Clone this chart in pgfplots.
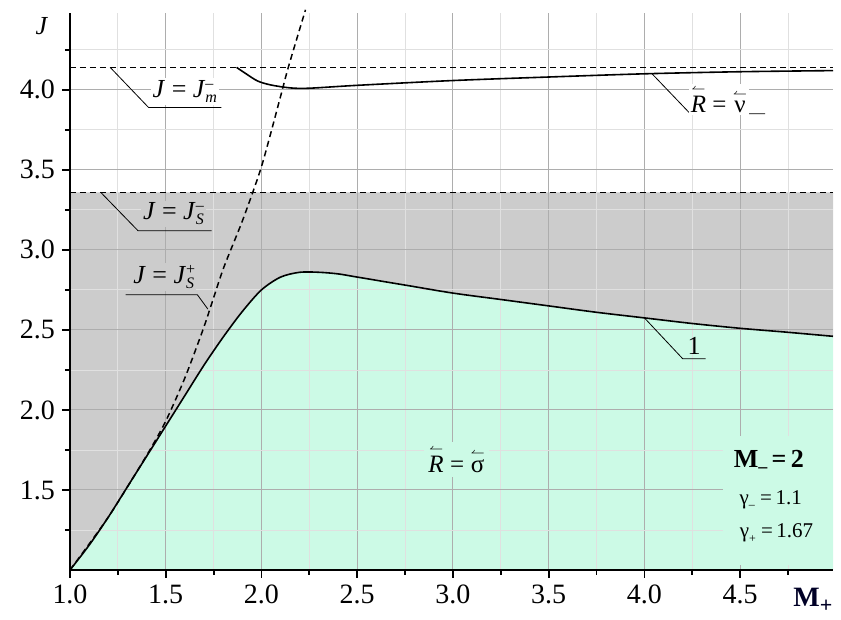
\documentclass[border=0pt]{standalone}
\usepackage{fontspec}
\setmainfont{Liberation Serif}
\usepackage{pgfplots}
\pgfplotsset{compat=1.18}
\definecolor{mint}{RGB}{204,250,230}
\definecolor{shade}{RGB}{204,204,204}
\newcommand{\ola}[1]{\ensuremath{\stackrel{\scriptscriptstyle\leftharpoonup}{\mbox{#1}}}}
\newcommand{\supsub}[2]{\makebox[0pt][l]{\raisebox{0.75ex}{\fontsize{8}{8}\selectfont #1}}\raisebox{-0.45ex}{\fontsize{8}{8}\selectfont #2}}
\begin{document}
\begin{tikzpicture}
\begin{axis}[
  set layers,
  at={(0pt,0pt)}, anchor=south west,
  scale only axis, width=381.5pt, height=278.5pt,
  xmin=1, xmax=4.985, ymin=1, ymax=4.48,
  axis lines=left, axis line style={-, line width=1pt},
  xtick={1,1.5,...,4.5}, ytick={1.5,2,...,4},
  minor xtick={1.25,1.75,...,4.75}, minor ytick={1.25,1.75,...,4.25},
  grid=both,
  major grid style={black!32, line width=0.5pt},
  minor grid style={black!12, line width=0.4pt},
  tick align=outside, tick pos=left,
  major tick length=4pt, minor tick length=2.5pt,
  tick style={black, line width=0.9pt},
  xticklabel style={/pgf/number format/fixed, /pgf/number format/fixed zerofill, /pgf/number format/precision=1},
  yticklabel style={/pgf/number format/fixed, /pgf/number format/fixed zerofill, /pgf/number format/precision=1},
  /pgf/number format/assume math mode=true,
  ticklabel style={font=\fontsize{14}{15}\selectfont},
  clip=false,
]
% green area under curve 1
\addplot[on layer=axis background, fill=mint, draw=none] coordinates {
(1.0,1.0) (1.1,1.155) (1.2,1.33) (1.3,1.52) (1.4,1.71) (1.5,1.90) (1.6,2.09) (1.7,2.28) (1.8,2.455) (1.9,2.615) (2.0,2.75) (2.1,2.83) (2.2,2.86) (2.3,2.86) (2.4,2.85) (2.5,2.83) (2.75,2.78) (3.0,2.73) (3.25,2.69) (3.5,2.65) (3.75,2.61) (4.0,2.575) (4.25,2.54) (4.5,2.51) (4.75,2.485) (4.985,2.46) (4.985,1.0)
} -- cycle;
% gray area between curve 1 and J_s^-
\addplot[on layer=axis background, fill=shade, draw=none] coordinates {
(1.0,1.0) (1.1,1.155) (1.2,1.33) (1.3,1.52) (1.4,1.71) (1.5,1.90) (1.6,2.09) (1.7,2.28) (1.8,2.455) (1.9,2.615) (2.0,2.75) (2.1,2.83) (2.2,2.86) (2.3,2.86) (2.4,2.85) (2.5,2.83) (2.75,2.78) (3.0,2.73) (3.25,2.69) (3.5,2.65) (3.75,2.61) (4.0,2.575) (4.25,2.54) (4.5,2.51) (4.75,2.485) (4.985,2.46) (4.985,3.36) (1.0,3.36)
} -- cycle;
% curve 1
\addplot[black, line width=0.8pt, smooth, tension=0.5] coordinates {
(1.0,1.0) (1.1,1.155) (1.2,1.33) (1.3,1.52) (1.4,1.71) (1.5,1.90) (1.6,2.09) (1.7,2.28) (1.8,2.455) (1.9,2.615) (2.0,2.75) (2.1,2.83) (2.2,2.86) (2.3,2.86) (2.4,2.85) (2.5,2.83) (2.75,2.78) (3.0,2.73) (3.25,2.69) (3.5,2.65) (3.75,2.61) (4.0,2.575) (4.25,2.54) (4.5,2.51) (4.75,2.485) (4.985,2.46)
};
% J = J_s^+ dashed
\addplot[black, line width=0.75pt, dash pattern=on 3pt off 2pt, smooth, tension=0.4] coordinates {
(1.0,1.0) (1.2,1.33) (1.4,1.715) (1.5,1.93) (1.6,2.2) (1.7,2.52) (1.8,2.88) (1.9,3.18) (2.0,3.52) (2.1,3.96) (2.14,4.14) (2.23,4.5)
};
% horizontal dashed levels
\addplot[black, line width=0.7pt, dash pattern=on 3pt off 2pt] coordinates {(1.0,4.14) (4.985,4.14)};
\addplot[black, line width=0.7pt, dash pattern=on 3pt off 2pt] coordinates {(1.0,3.36) (4.985,3.36)};
% upper curve R = nu
\addplot[black, line width=0.8pt, smooth, tension=0.5] coordinates {
(1.87,4.14) (1.92,4.10) (1.98,4.055) (2.05,4.03) (2.15,4.012) (2.25,4.01) (2.5,4.028) (3.0,4.058) (3.5,4.08) (4.0,4.10) (4.5,4.113) (4.985,4.12)
};
% annotations
\draw[black, line width=0.4pt] (axis cs:1.21,4.14) -- (axis cs:1.41,3.89) -- (axis cs:1.79,3.89);
\node[fill=white, inner sep=1pt, font=\fontsize{13}{14}\selectfont] at (axis cs:1.60,3.99) {\textit{J} = \textit{J}\supsub{--}{\textit{m}}};
\draw[black, line width=0.4pt] (axis cs:4.04,4.10) -- (axis cs:4.24,3.85) -- (axis cs:4.63,3.85);
\node[fill=white, inner sep=1pt, font=\fontsize{12.5}{14}\selectfont] at (axis cs:4.39,3.94) {\ola{\textit{R}} = \ola{ν}};
\draw[black, line width=0.4pt] (axis cs:1.16,3.36) -- (axis cs:1.355,3.12) -- (axis cs:1.74,3.12);
\node[fill=shade, inner sep=1pt, font=\fontsize{13}{14}\selectfont] at (axis cs:1.54,3.225) {\textit{J} = \textit{J}\supsub{--}{\textit{S}}};
\draw[black, line width=0.4pt] (axis cs:1.29,2.72) -- (axis cs:1.665,2.72) -- (axis cs:1.72,2.63);
\node[fill=shade, inner sep=1pt, font=\fontsize{13}{14}\selectfont] at (axis cs:1.49,2.83) {\textit{J} = \textit{J}\supsub{+}{\textit{S}}};
\draw[black, line width=0.4pt] (axis cs:4.0,2.575) -- (axis cs:4.2,2.32) -- (axis cs:4.32,2.32);
\node[font=\fontsize{13}{14}\selectfont] at (axis cs:4.26,2.40) {1};
\node[fill=mint, inner sep=2pt, font=\fontsize{12.5}{14}\selectfont] at (axis cs:3.02,1.69) {\ola{\textit{R}} = \ola{σ}};
\fill[mint] (axis cs:4.41,1.03) rectangle (axis cs:4.985,1.84);
\node[font=\fontsize{13}{14}\selectfont\bfseries] at (axis cs:4.65,1.68) {M\raisebox{-0.4ex}{\fontsize{9}{9}\selectfont --}\,=\,2};
\node[font=\fontsize{10.5}{12}\selectfont] at (axis cs:4.66,1.44) {γ\raisebox{-0.5ex}{\fontsize{6}{6}\selectfont --} =\,1.1};
\node[font=\fontsize{10.5}{12}\selectfont] at (axis cs:4.69,1.23) {γ\raisebox{-0.5ex}{\fontsize{6}{6}\selectfont +} =\,1.67};
% axis labels
\node[font=\fontsize{13}{14}\selectfont\itshape] at (axis cs:0.85,4.40) {J};
\node[font=\fontsize{14}{15}\selectfont\bfseries, text=black!85!blue] at (axis cs:4.88,0.81) {M\raisebox{-0.5ex}{\fontsize{11}{11}\selectfont +}};
\end{axis}
\path (-35pt,-22.5pt) rectangle (385.5pt,285pt);
\end{tikzpicture}
\end{document}
